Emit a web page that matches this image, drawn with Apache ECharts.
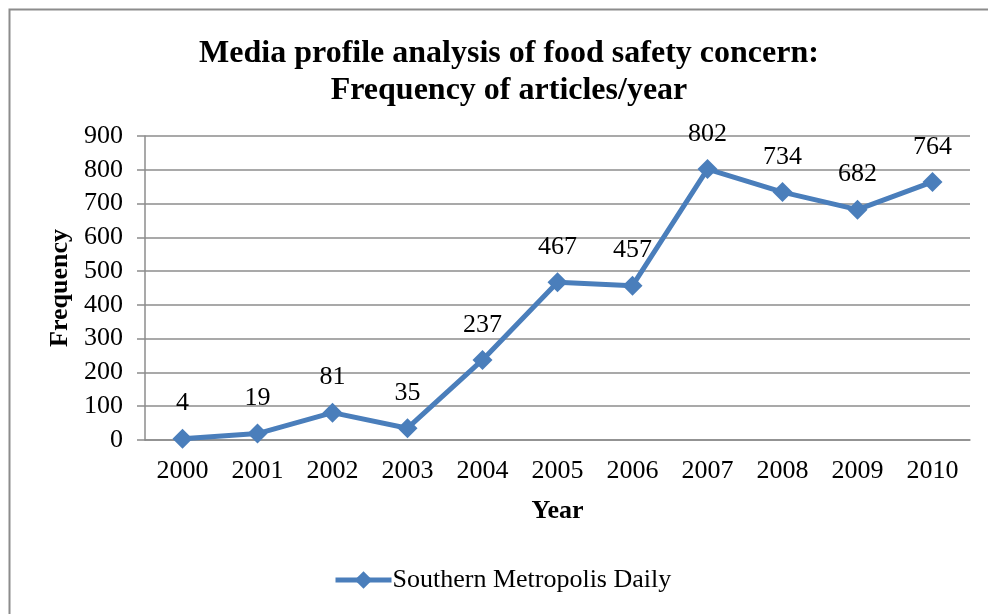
<!DOCTYPE html>
<html>
<head>
<meta charset="utf-8">
<script src="https://cdn.jsdelivr.net/npm/echarts@6/dist/echarts.min.js"></script>
<style>
  html, body { margin: 0; padding: 0; background: #fff; }
  #chart { width: 988px; height: 614px; }
</style>
</head>
<body>
<div id="chart"></div>
<script>
const years = ["2000", "2001", "2002", "2003", "2004", "2005", "2006", "2007", "2008", "2009", "2010"];
const articles = [4, 19, 81, 35, 237, 467, 457, 802, 734, 682, 764];
const seriesName = "Southern Metropolis Daily";

const font = "'Liberation Serif', 'Times New Roman', serif";
const myChart = echarts.init(document.getElementById("chart"));

const option = {
  animation: false,
  textStyle: { fontFamily: font },
  graphic: [
    {
      type: "rect",
      shape: { x: 9.5, y: 9.5, width: 990, height: 620 },
      style: { fill: "none", stroke: "#8c8c8c", lineWidth: 2 },
      silent: true
    }
  ],
  title: {
    text: "Media profile analysis of food safety concern:\nFrequency of articles/year",
    left: 504,
    top: 30,
    textAlign: "center",
    textStyle: {
      fontFamily: font,
      fontSize: 32,
      fontWeight: "bold",
      color: "#000",
      lineHeight: 37
    }
  },
  legend: {
    bottom: 16,
    left: 328,
    itemWidth: 56,
    itemHeight: 22,
    itemGap: 4,
    lineStyle: { width: 5 },
    textStyle: { fontFamily: font, fontSize: 26, color: "#000", padding: [0, 0, 0, -4] },
    data: [seriesName]
  },
  grid: { left: 145, right: 18, top: 136, bottom: 174 },
  xAxis: {
    type: "category",
    data: years,
    name: "Year",
    nameLocation: "middle",
    nameGap: 58,
    nameTextStyle: { fontFamily: font, fontSize: 26, fontWeight: "bold", color: "#000" },
    axisLine: { lineStyle: { color: "#8c8c8c", width: 1.5 } },
    axisTick: { show: false },
    axisLabel: { fontFamily: font, fontSize: 26, color: "#000", margin: 18 }
  },
  yAxis: {
    type: "value",
    min: 0,
    max: 900,
    interval: 100,
    name: "Frequency",
    nameLocation: "middle",
    nameGap: 72,
    nameRotate: 90,
    nameTextStyle: { fontFamily: font, fontSize: 26, fontWeight: "bold", color: "#000" },
    axisLine: { show: true, lineStyle: { color: "#8c8c8c", width: 1.5 } },
    axisTick: { show: true, length: 8, lineStyle: { color: "#8c8c8c", width: 1.5 } },
    axisLabel: { fontFamily: font, fontSize: 26, color: "#000", margin: 22 },
    splitLine: { lineStyle: { color: "#8c8c8c", width: 1.5 } }
  },
  series: [
    {
      name: seriesName,
      type: "line",
      data: articles,
      symbol: "diamond",
      symbolSize: 20,
      itemStyle: { color: "#4a7ebb" },
      lineStyle: { color: "#4a7ebb", width: 5 },
      label: {
        show: true,
        position: "top",
        distance: 12,
        fontFamily: font,
        fontSize: 26,
        color: "#000"
      }
    }
  ]
};

myChart.setOption(option, true);
window.addEventListener("resize", function () {
  myChart.resize();
});
</script>
</body>
</html>
